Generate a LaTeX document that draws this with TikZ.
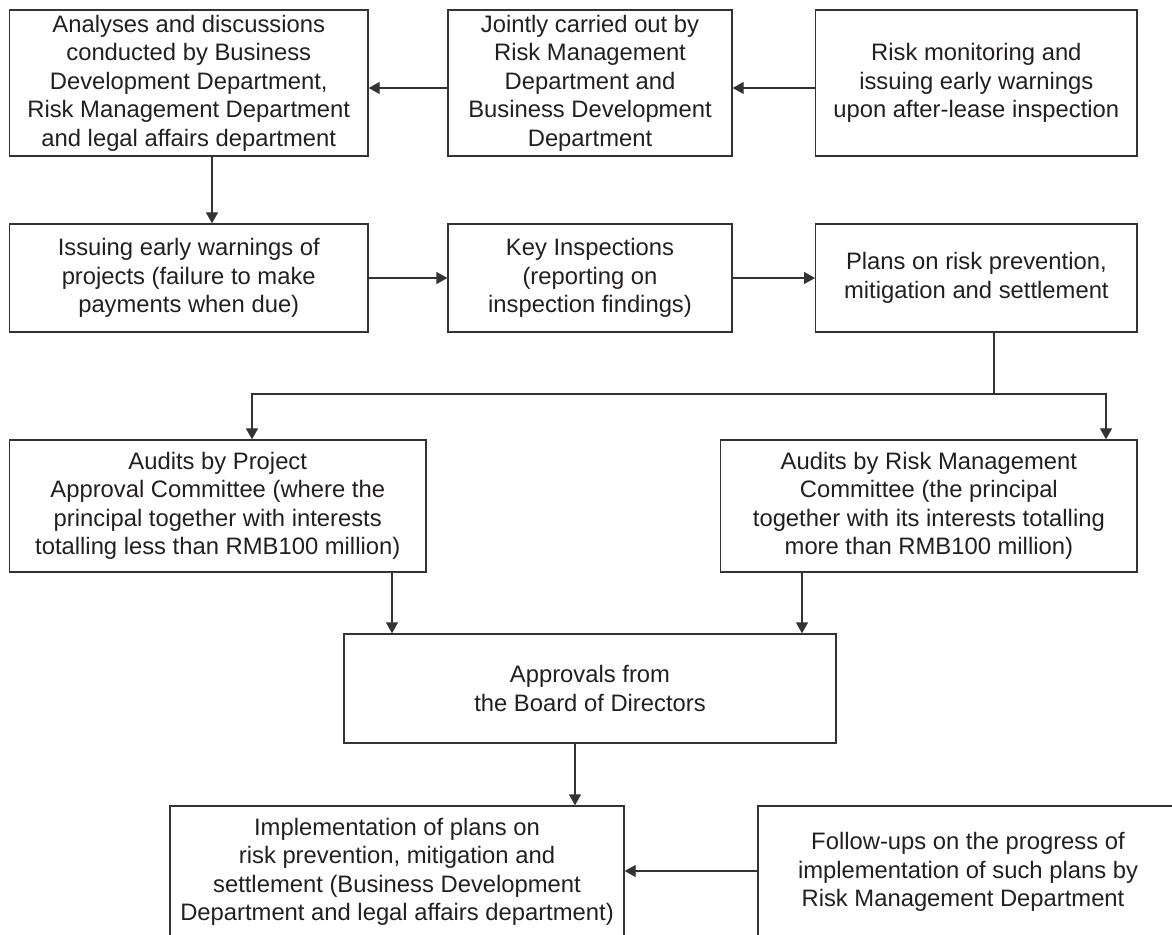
\documentclass[tikz,border=0pt]{standalone}
\usepackage{fontspec}
\setmainfont{Liberation Sans}
\usetikzlibrary{arrows.meta}
\definecolor{ink}{HTML}{231F20}
\definecolor{rule}{HTML}{333333}
\begin{document}
\begin{tikzpicture}[x=0.5pt,y=-0.5pt,
  box/.style={draw=rule, line width=0.7pt, rectangle, inner sep=0pt,
    align=center, text=ink, font=\fontsize{11.9pt}{14.25pt}\selectfont},
  arr/.style={draw=rule, line width=0.7pt, -{Triangle[length=5.5pt,width=6pt]}},
  link/.style={draw=rule, line width=0.7pt}]
\useasboundingbox (0,0) rectangle (1172,935);

% top row
\node[box, minimum width=179.25pt, minimum height=73pt] (A) at (188.75,83)
  {Analyses and discussions\\conducted by Business\\Development Department,\\Risk Management Department\\and legal affairs department};
\node[box, minimum width=142pt, minimum height=73pt] (B) at (590,83)
  {Jointly carried out by\\Risk Management\\Department and\\Business Development\\Department};
\node[box, minimum width=160.65pt, minimum height=73pt] (C) at (976.35,83)
  {Risk monitoring and\\issuing early warnings\\upon after-lease inspection};

% second row
\node[box, minimum width=179.25pt, minimum height=54pt] (D) at (188.75,278)
  {Issuing early warnings of\\projects (failure to make\\payments when due)};
\node[box, minimum width=142pt, minimum height=54pt] (E) at (590,278)
  {Key Inspections\\(reporting on\\inspection findings)};
\node[box, minimum width=160.65pt, minimum height=54pt] (F) at (976.35,278)
  {Plans on risk prevention,\\mitigation and settlement};

% audits
\node[box, minimum width=208.25pt, minimum height=66pt] (G) at (217.75,506)
  {Audits by Project\\Approval Committee (where the\\principal together with interests\\totalling less than RMB100 million)};
\node[box, minimum width=208.15pt, minimum height=66pt] (H) at (928.85,506)
  {Audits by Risk Management\\Committee (the principal\\together with its interests totalling\\more than RMB100 million)};

% board
\node[box, minimum width=246pt, minimum height=54.5pt] (I) at (590,688.5)
  {Approvals from\\the Board of Directors};

% implementation and follow-ups
\node[box, minimum width=227pt, minimum height=66pt] (J) at (397,872)
  {Implementation of plans on\\risk prevention, mitigation and\\settlement (Business Development\\Department and legal affairs department)};
\node[box, minimum width=210pt, minimum height=66pt] (K) at (968,872)
  {Follow-ups on the progress of\\implementation of such plans by\\Risk Management Department\hspace*{5pt}};

% connectors
\draw[arr] (B.west |- 0,88) -- (A.east |- 0,88);
\draw[arr] (C.west |- 0,88) -- (B.east |- 0,88);
\draw[arr] (A.south -| 212,0) -- (D.north -| 212,0);
\draw[arr] (D.east) -- (E.west);
\draw[arr] (E.east) -- (F.west);

\coordinate (split) at (994,394);
\draw[link] (F.south -| split) -- (split);
\draw[arr] (split) -| (G.north -| 252,0);
\draw[arr] (split) -| (H.north -| 1106,0);

\draw[arr] (G.south -| 392,0) -- (I.north -| 392,0);
\draw[arr] (H.south -| 802,0) -- (I.north -| 802,0);
\draw[arr] (I.south -| 575,0) -- (J.north -| 575,0);
\draw[arr] (K.west |- 0,871) -- (J.east |- 0,871);
\end{tikzpicture}
\end{document}
